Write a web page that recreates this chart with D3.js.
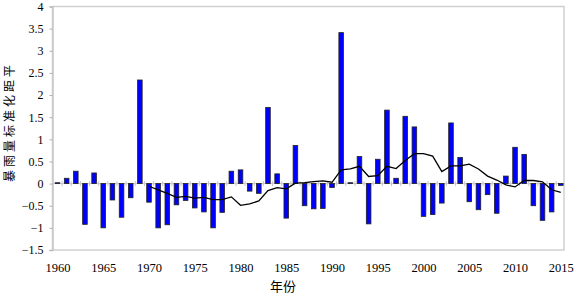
<!DOCTYPE html>
<html>
<head>
<meta charset="utf-8">
<script src="https://cdn.jsdelivr.net/npm/d3@7"></script>
<style>
  body { margin: 0; background: #fff; }
</style>
</head>
<body>
<div id="chart"></div>
<script>
// bar values: yearly standardized anomaly of rainstorm amount
var years = d3.range(1960, 2016);
var values = [0.02, 0.12, 0.28, -0.92, 0.24, -1.0, -0.37, -0.76, -0.32, 2.34,
  -0.42, -1.0, -0.93, -0.48, -0.38, -0.55, -0.64, -1.0, -0.65, 0.28,
  0.31, -0.17, -0.22, 1.72, 0.22, -0.78, 0.86, -0.50, -0.57, -0.56,
  -0.09, 3.41, 0.02, 0.61, -0.91, 0.55, 1.66, 0.12, 1.52, 1.28,
  -0.74, -0.70, -0.44, 1.37, 0.59, -0.41, -0.59, -0.25, -0.67, 0.17,
  0.82, 0.66, -0.50, -0.83, -0.64, -0.04];

// smoothed curve, starts in 1970
var lineYears = d3.range(1970, 2016);
var lineValues = [-0.06, -0.14, -0.22, -0.31, -0.29, -0.33, -0.31, -0.36, -0.36, -0.30,
  -0.49, -0.46, -0.39, -0.16, -0.09, -0.12, 0.01, 0.02, 0.045, 0.06,
  0.03, 0.31, 0.33, 0.39, 0.16, 0.18, 0.39, 0.34, 0.52, 0.675,
  0.675, 0.62, 0.27, 0.40, 0.40, 0.44, 0.33, 0.17, 0.08, -0.03,
  -0.075, 0.07, 0.07, 0.04, -0.14, -0.20];

var yTicks = [-1.5, -1, -0.5, 0, 0.5, 1, 1.5, 2, 2.5, 3, 3.5, 4];
var xTicks = [1960, 1965, 1970, 1975, 1980, 1985, 1990, 1995, 2000, 2005, 2010, 2015];

var W = 575, H = 296;
var plot = {left: 52.5, right: 564, top: 6.5, bottom: 250};
var serif = "'Liberation Serif', 'DejaVu Serif', serif";

var svg = d3.select("#chart")
  .append("svg")
    .attr("width", W)
    .attr("height", H);

// scales
var x = d3.scaleLinear()
  .domain([1960, 2015])
  .range([57.5, 560.8]);
var y = d3.scaleLinear()
  .domain([-1.5, 4])
  .range([plot.bottom, plot.top]);

// frame
svg.append("rect")
  .attr("x", plot.left)
  .attr("y", plot.top)
  .attr("width", plot.right - plot.left)
  .attr("height", plot.bottom - plot.top)
  .attr("fill", "none")
  .attr("stroke", "#d0d0d0")
  .attr("stroke-width", 1.5);

// Y axis
var yAxis = svg.append("g")
  .attr("transform", "translate(" + plot.left + ",0)")
  .call(d3.axisLeft(y).tickValues(yTicks).tickSize(3).tickPadding(6)
    .tickFormat(d3.format("")));
yAxis.attr("font-family", serif).attr("font-size", 12);
yAxis.select(".domain").attr("stroke", "#c8c8c8").attr("stroke-width", 1.5);
yAxis.selectAll(".tick line").attr("stroke", "#b0b0b0");
yAxis.selectAll(".tick text").attr("fill", "#000");

// X axis labels (bottom, no ticks)
var xAxis = svg.append("g")
  .attr("transform", "translate(0," + plot.bottom + ")")
  .call(d3.axisBottom(x).tickValues(xTicks).tickSize(0).tickPadding(13)
    .tickFormat(d3.format("d")));
xAxis.attr("font-family", serif).attr("font-size", 12.5);
xAxis.select(".domain").remove();
xAxis.selectAll(".tick text").attr("fill", "#000");

// zero line with category ticks
var zero = svg.append("g").attr("transform", "translate(0," + y(0) + ")");
zero.append("line")
  .attr("x1", plot.left).attr("x2", plot.right)
  .attr("stroke", "#c8c8c8").attr("stroke-width", 1);
zero.selectAll("line.ct")
  .data(d3.range(1960.5, 2015.5, 1))
  .enter()
  .append("line")
    .attr("class", "ct")
    .attr("x1", function(d) { return x(d); })
    .attr("x2", function(d) { return x(d); })
    .attr("y1", -2.5).attr("y2", 2.5)
    .attr("stroke", "#c8c8c8");

// bars
var bw = 4.6;
svg.selectAll("rect.bar")
  .data(years)
  .enter()
  .append("rect")
    .attr("class", "bar")
    .attr("x", function(d) { return x(d) - bw / 2; })
    .attr("y", function(d, i) { return y(Math.max(0, values[i])); })
    .attr("width", bw)
    .attr("height", function(d, i) { return Math.abs(y(values[i]) - y(0)); })
    .attr("fill", "#0000ff")
    .attr("stroke", "#222")
    .attr("stroke-width", 0.8);

// smoothed line
var line = d3.line()
  .x(function(d) { return x(d); })
  .y(function(d, i) { return y(lineValues[i]); });
svg.append("path")
  .datum(lineYears)
  .attr("d", line)
  .attr("fill", "none")
  .attr("stroke", "#000")
  .attr("stroke-width", 1.3);

// titles
svg.append("text")
  .attr("transform", "translate(14,122) rotate(-90)")
  .attr("text-anchor", "middle")
  .style("font-family", "'Noto Sans CJK SC', sans-serif")
  .style("font-size", "12px")
  .style("letter-spacing", "3px")
  .text("暴雨量标准化距平");

svg.append("text")
  .attr("x", 283)
  .attr("y", 291)
  .attr("text-anchor", "middle")
  .style("font-family", "'Noto Sans CJK SC', sans-serif")
  .style("font-size", "13px")
  .text("年份");
</script>
</body>
</html>
